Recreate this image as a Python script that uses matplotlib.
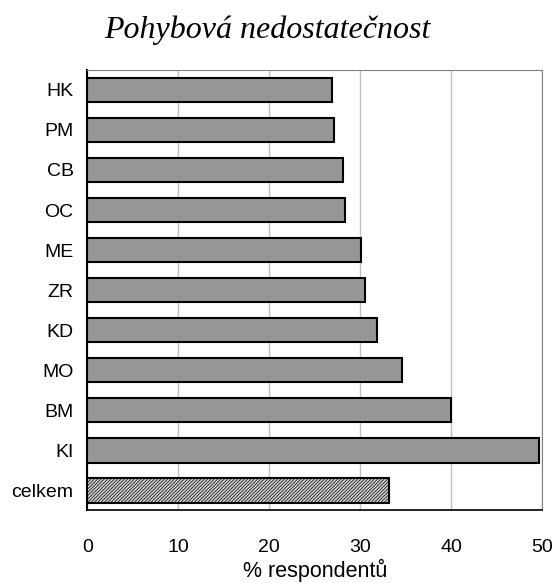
import numpy as np
import matplotlib
matplotlib.use('Agg')
import matplotlib.pyplot as plt

kraje = ['HK', 'PM', 'CB', 'OC', 'ME', 'ZR', 'KD', 'MO', 'BM', 'KI', 'celkem']
hodnoty = [26.9, 27.1, 28.1, 28.3, 30.1, 30.5, 31.8, 34.6, 40.0, 49.7, 33.2]
x_ticks = [0, 10, 20, 30, 40, 50]

plt.rcParams['font.family'] = ['Liberation Sans', 'DejaVu Sans']
plt.rcParams['hatch.linewidth'] = 0.5

fig = plt.figure(figsize=(5.57, 5.83), dpi=100)
ax = fig.add_axes([0.157, 0.125, 0.816, 0.755])

y = np.arange(len(kraje))[::-1]
bary = ax.barh(y[:-1], hodnoty[:-1], height=0.62, color='#969696',
               edgecolor='black', linewidth=1.5, zorder=3)
celkem = ax.barh(y[-1], hodnoty[-1], height=0.62, color='#d0d0d0',
                 edgecolor='black', linewidth=1.5, hatch='//////////', zorder=3)

ax.set_xlim(0, 50)
ax.set_ylim(-0.5, len(kraje) - 0.5)
ax.set_xticks(x_ticks)
ax.set_yticks(y)
ax.set_yticklabels(kraje)
ax.tick_params(axis='both', length=0, labelsize=14)
ax.tick_params(axis='x', pad=21)
ax.tick_params(axis='y', pad=10)
ax.xaxis.grid(True, color='#c0c0c0', linewidth=1, zorder=0)

for s in ['top', 'right']:
    ax.spines[s].set_color('#808080')
ax.spines['left'].set_linewidth(1.5)
ax.spines['bottom'].set_linewidth(1.2)

ax.set_xlabel('% respondentů', fontsize=15.5, labelpad=2)
fig.text(0.48, 0.948, 'Pohybová nedostatečnost', ha='center', va='center',
         fontsize=23, style='italic', family='Liberation Serif')

fig.savefig('out.png', dpi=100)
